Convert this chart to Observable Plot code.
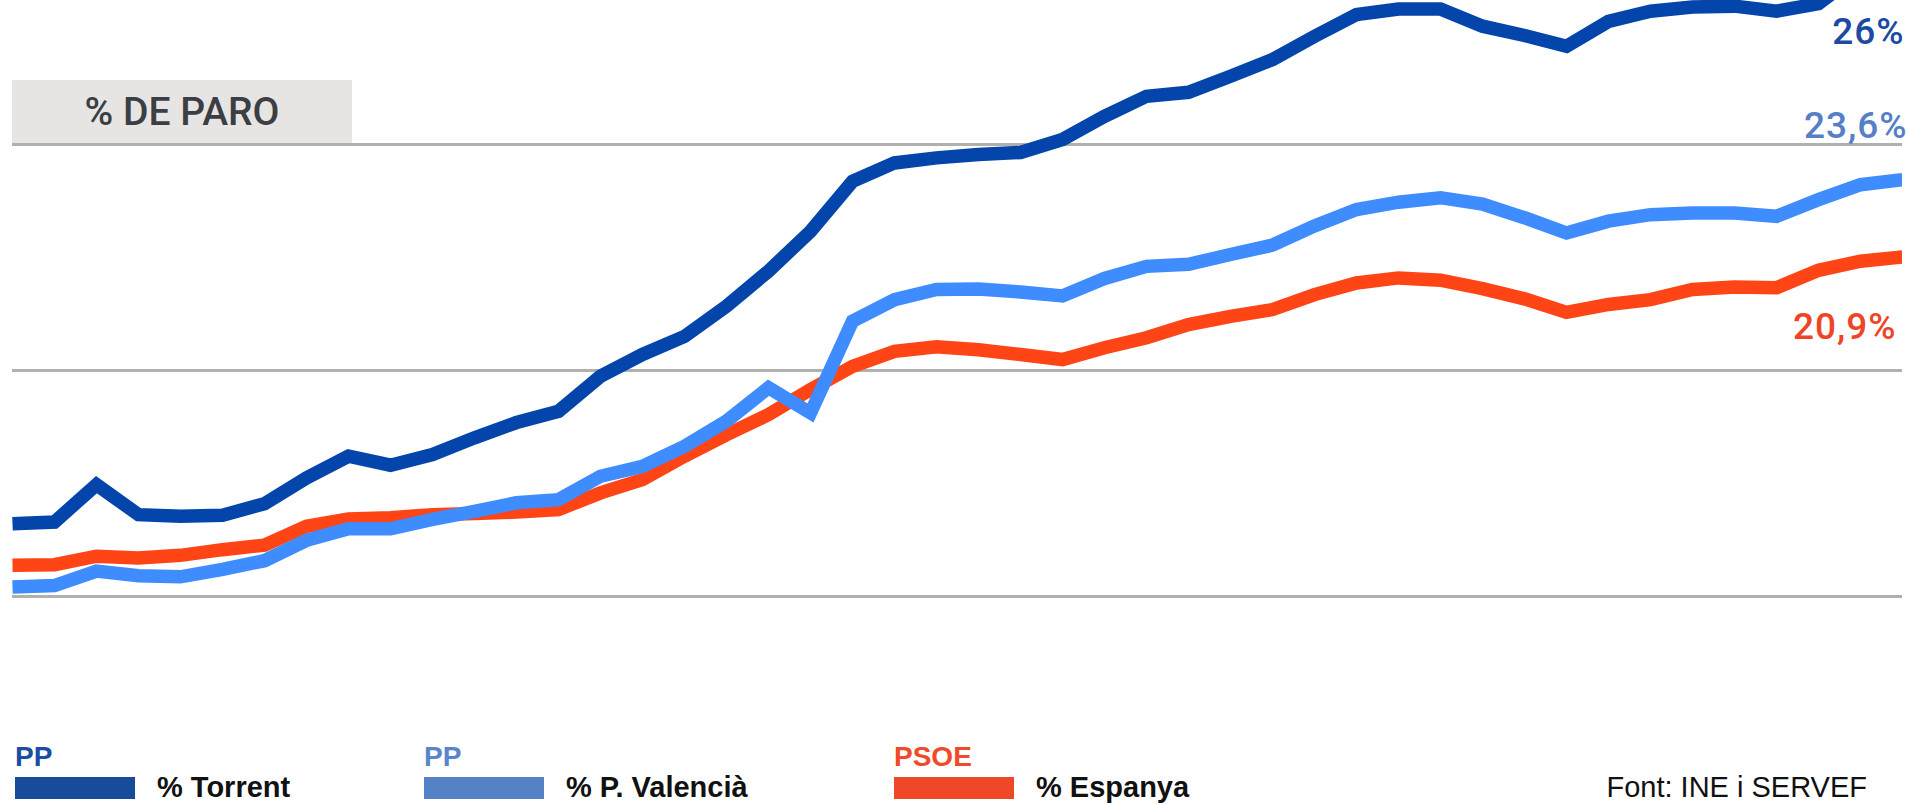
<!DOCTYPE html>
<html>
<head>
<meta charset="utf-8">
<script src="https://cdn.jsdelivr.net/npm/d3@7"></script>
<script src="https://cdn.jsdelivr.net/npm/@observablehq/plot@0.6"></script>
<style>
  html, body { margin: 0; padding: 0; background: #fff; }
  #wrap { position: relative; width: 1907px; height: 804px; overflow: hidden; background: #fff; }
  #chart svg { display: block; overflow: hidden; }
  #title {
    position: absolute; left: 12px; top: 80px; width: 340px; height: 63px;
    background: #e6e5e3; color: #3b3e42;
    font: 500 39px Roboto, sans-serif;
    display: flex; align-items: center; justify-content: center;
  }
  .lg { position: absolute; top: 0; height: 804px; font-family: "Liberation Sans", Arial, sans-serif; }
  .lg .party { position: absolute; left: 0; top: 743px; font-weight: 700; font-size: 28px; line-height: 28px; white-space: nowrap; }
  .lg .sw { position: absolute; left: 0; top: 777px; width: 120px; height: 22px; }
  .lg .name { position: absolute; left: 142px; top: 773px; font-weight: 700; font-size: 29px; line-height: 29px; color: #111; white-space: nowrap; }
  #source { position: absolute; right: 40px; top: 773px; font: 400 29px/29px "Liberation Sans", Arial, sans-serif; color: #111; white-space: nowrap; }
</style>
</head>
<body>
<div id="wrap">
  <div id="chart"></div>
  <div id="title"></div>
  <div id="legend"></div>
  <div id="source"></div>
</div>
<script>
// ---- data ----
const periods = Array.from({length: 46}, (_, i) => i); // consecutive periods, unlabeled in the original

const torrent = [11.48, 11.54, 12.86, 11.80, 11.74, 11.78, 12.19, 13.10, 13.87, 13.55,
                 13.93, 14.52, 15.06, 15.46, 16.70, 17.47, 18.11, 19.18, 20.42, 21.83,
                 23.60, 24.25, 24.43, 24.55, 24.62, 25.08, 25.90, 26.61, 26.75, 27.32,
                 27.91, 28.73, 29.50, 29.70, 29.70, 29.09, 28.76, 28.38, 29.26, 29.62,
                 29.77, 29.80, 29.62, 29.89, 31.00, 31.60];

const valencia = [9.24, 9.29, 9.80, 9.64, 9.60, 9.86, 10.17, 10.89, 11.30, 11.30,
                  11.63, 11.92, 12.22, 12.33, 13.16, 13.51, 14.22, 15.11, 16.29, 15.40,
                  18.65, 19.41, 19.77, 19.79, 19.68, 19.54, 20.16, 20.59, 20.66, 21.01,
                  21.34, 22.02, 22.60, 22.86, 23.02, 22.79, 22.31, 21.77, 22.19, 22.42,
                  22.48, 22.48, 22.36, 22.95, 23.48, 23.66];

const espanya = [10.01, 10.03, 10.33, 10.27, 10.36, 10.56, 10.72, 11.39, 11.65, 11.69,
                 11.80, 11.84, 11.89, 11.98, 12.57, 13.04, 13.87, 14.63, 15.34, 16.23,
                 17.05, 17.58, 17.74, 17.64, 17.47, 17.29, 17.71, 18.06, 18.53, 18.82,
                 19.06, 19.59, 20.00, 20.18, 20.10, 19.80, 19.44, 18.96, 19.24, 19.41,
                 19.77, 19.86, 19.83, 20.45, 20.77, 20.92];

const gridValues = [8.9, 16.9, 24.9];

const seriesNames = ["% Torrent", "% P. Valencià", "% Espanya"];
const seriesParties = ["PP", "PP", "PSOE"];
const endLabels = ["26%", "23,6%", "20,9%"];
const titleText = "% DE PARO";
const sourceText = "Font: INE i SERVEF";

// ---- styles ----
const lineColors = ["#0345ab", "#3f8cff", "#ff4416"];
const swatchColors = ["#194b9d", "#5581c5", "#ef4829"];
const partyColors = ["#1a4da3", "#5886cb", "#f04a2a"];
const labelColors = ["#1c49a1", "#5580c6", "#ef4526"];

const rows = (vals, s) => periods.map((p, i) => ({period: p, value: vals[i], series: s}));
const data = [
  ...rows(espanya, seriesNames[2]),
  ...rows(valencia, seriesNames[1]),
  ...rows(torrent, seriesNames[0])
];

const labelData = endLabels.map((t, i) => ({text: t, i}));
const labelDy = [17, 111, 312];
const labelDx = [2, 5, -6];

const lineMark = (name, color) => Plot.line(data.filter(d => d.series === name), {
  x: "period", y: "value", stroke: color, strokeWidth: 13.5,
  strokeLinejoin: "miter", strokeMiterlimit: 4, strokeLinecap: "butt", clip: true
});

const chart = Plot.plot({
  width: 1907,
  height: 678,
  marginLeft: 12,
  marginRight: 5,
  marginTop: 0,
  marginBottom: 0,
  x: {domain: [periods[0], periods[periods.length - 1]], axis: null},
  y: {domain: [6, 30], axis: null},
  style: {background: "#fff", overflow: "hidden"},
  marks: [
    Plot.ruleY(gridValues, {stroke: "#b0b0b0", strokeWidth: 3}),
    lineMark(seriesNames[2], lineColors[2]),
    lineMark(seriesNames[1], lineColors[1]),
    lineMark(seriesNames[0], lineColors[0]),
    ...labelData.map(d => Plot.text([d], {
      text: "text", frameAnchor: "top-right", lineAnchor: "top", textAnchor: "end",
      dx: labelDx[d.i], dy: labelDy[d.i],
      fill: labelColors[d.i], fontSize: 37, fontWeight: 500,
      fontFamily: "Roboto, sans-serif", stroke: null
    }))
  ]
});
chart.querySelectorAll("text").forEach(t => t.style.letterSpacing = "1px");
document.getElementById("chart").appendChild(chart);

document.getElementById("title").textContent = titleText;
document.getElementById("source").textContent = sourceText;

const legendLeft = [15, 424, 894];
const legend = document.getElementById("legend");
seriesNames.forEach((name, i) => {
  const g = document.createElement("div");
  g.className = "lg";
  g.style.left = legendLeft[i] + "px";
  const p = document.createElement("div");
  p.className = "party"; p.textContent = seriesParties[i]; p.style.color = partyColors[i];
  const s = document.createElement("div");
  s.className = "sw"; s.style.background = swatchColors[i];
  const n = document.createElement("div");
  n.className = "name"; n.textContent = name;
  g.append(p, s, n);
  legend.appendChild(g);
});
</script>
</body>
</html>
